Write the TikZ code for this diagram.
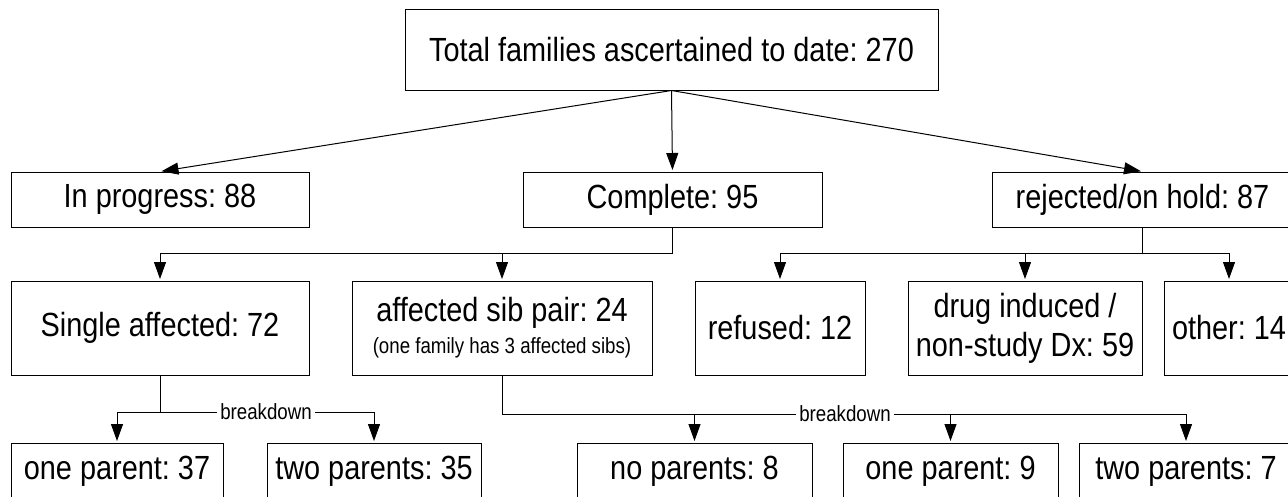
\documentclass[tikz,border=0pt]{standalone}
\usepackage{fontspec}
\usetikzlibrary{arrows.meta}
\newfontfamily\mainf[FakeStretch=0.862]{Liberation Sans}
\newfontfamily\smallf[FakeStretch=0.85]{Liberation Sans}
\newcommand\fbig{\mainf\fontsize{33.5}{39}\selectfont\frenchspacing}
\newcommand\fsmall{\smallf\fontsize{22}{25}\selectfont\frenchspacing}
\tikzset{
  box/.style={draw, line width=1pt, inner sep=0pt, align=center, font=\fbig},
  conn/.style={line width=1pt},
  arr/.style={line width=1pt, -{Triangle[length=17pt,width=12pt]}, shorten >=1.5pt},
  lab/.style={fill=white, inner xsep=3pt, inner ysep=1pt, font=\fsmall}
}
\begin{document}
\begin{tikzpicture}[x=1pt,y=-1pt]
\path[use as bounding box, fill=white] (0,0) rectangle (1288,496);
\clip (0,0) rectangle (1288,496);
% row 1
\node[box, minimum width=533, minimum height=81] (top) at (671.5,49.5) {Total families ascertained to date: 270};
% row 2
\node[box, minimum width=298, minimum height=55] (inp) at (160,199.5) {In progress: 88};
\node[box, minimum width=299, minimum height=55] (comp) at (672.5,199.5) {Complete: 95};
\node[box, minimum width=301, minimum height=55] (rej) at (1142.5,199.5) {rejected/on hold: 87};
% row 3
\node[box, minimum width=298, minimum height=94] (single) at (160,328) {Single affected: 72};
\node[box, minimum width=300, minimum height=94] (sib) at (502,328) {affected sib pair: 24\\[-7pt]{\fsmall (one family has 3 affected sibs)}};
\node[box, minimum width=170, minimum height=94] (ref) at (780,328) {refused: 12};
\node[box, minimum width=234, minimum height=94] (drug) at (1025,328) {drug induced /\\non-study Dx: 59};
\node[box, minimum width=130, minimum height=94] (oth) at (1229,328) {other: 14};
% row 4
\node[box, minimum width=212, minimum height=56] (p37) at (117,471) {one parent: 37};
\node[box, minimum width=214, minimum height=56] (p35) at (374,471) {two parents: 35};
\node[box, minimum width=235, minimum height=56] (p8) at (694.5,471) {no parents: 8};
\node[box, minimum width=215, minimum height=56] (p9) at (950.5,471) {one parent: 9};
\node[box, minimum width=214, minimum height=56] (p7) at (1186,471) {two parents: 7};
% top arrows
\draw[arr] (top.south) -- (inp.north);
\draw[arr] (top.south) -- (comp.north);
\draw[arr] (top.south) -- (rej.north);
% complete branch
\coordinate (c1) at (672.5,253);
\draw[conn] (comp.south) -- (c1);
\draw[arr] (c1) -| (single.north);
\draw[arr] (c1) -| (sib.north);
% rejected branch
\coordinate (r1) at (1142.5,253);
\draw[conn] (rej.south) -- (r1);
\draw[arr] (r1) -| (ref.north);
\draw[arr] (r1) -| (drug.north);
\draw[arr] (r1) -| (oth.north);
% breakdown 1
\coordinate (s1) at (160,412);
\draw[conn] (single.south) -- (s1);
\draw[arr] (s1) -| (p37.north);
\draw[arr] (s1) -| (p35.north);
\node[lab] (bd1) at (266,412) {breakdown};
% breakdown 2
\coordinate (b1) at (502,414);
\draw[conn] (sib.south) -- (b1);
\draw[arr] (b1) -| (p8.north);
\draw[arr] (b1) -| (p9.north);
\draw[arr] (b1) -| (p7.north);
\node[lab] (bd2) at (845,414) {breakdown};
\end{tikzpicture}
\end{document}
